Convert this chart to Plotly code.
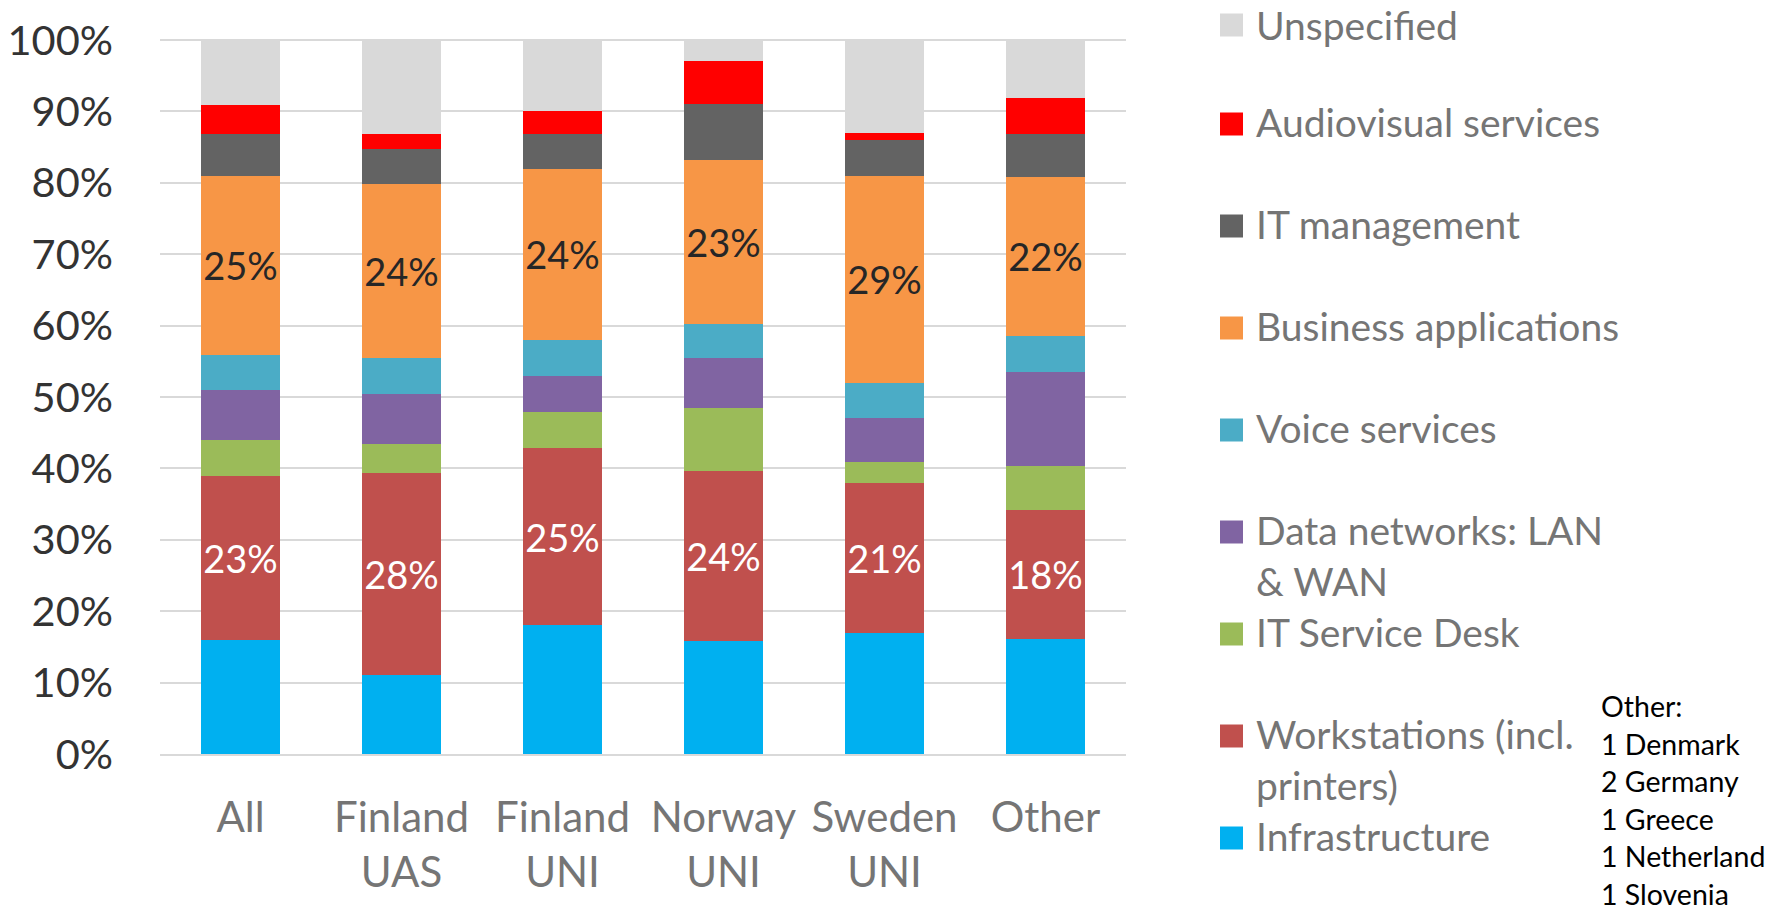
import plotly.graph_objects as go

# ---------------- data (percent shares, bottom -> top) ----------------
categories = ["All", "Finland<br>UAS", "Finland<br>UNI", "Norway<br>UNI", "Sweden<br>UNI", "Other"]

series_names = [
    "Infrastructure",
    "Workstations (incl.<br>printers)",
    "IT Service Desk",
    "Data networks: LAN<br>& WAN",
    "Voice services",
    "Business applications",
    "IT management",
    "Audiovisual services",
    "Unspecified",
]

infrastructure = [16.0, 11.1, 18.0, 15.8, 16.9, 16.1]
workstations = [22.9, 28.2, 24.9, 23.8, 21.0, 18.1]
it_service_desk = [5.1, 4.1, 5.0, 8.9, 3.0, 6.2]
data_networks = [7.0, 7.0, 5.0, 6.9, 6.1, 13.1]
voice_services = [4.9, 5.1, 5.1, 4.9, 5.0, 5.1]
business_apps = [25.1, 24.3, 24.0, 22.9, 29.0, 22.2]
it_management = [5.9, 5.0, 4.9, 7.9, 5.0, 6.0]
audiovisual = [4.0, 2.0, 3.1, 5.9, 1.0, 5.1]
unspecified = [9.1, 13.2, 10.0, 3.0, 13.0, 8.1]

series_values = [infrastructure, workstations, it_service_desk, data_networks,
                 voice_services, business_apps, it_management, audiovisual, unspecified]

colors = ["#00B0F0", "#C0504D", "#9BBB59", "#8064A2", "#4BACC6",
          "#F79646", "#636363", "#FF0000", "#D9D9D9"]

labelled = {1: "#FFFFFF", 5: "#262626"}  # series index -> data label colour

other_note = ["Other:", "1 Denmark", "2 Germany", "1 Greece", "1 Netherland", "1 Slovenia"]

y_ticks = list(range(0, 101, 10))

# ---------------- layout geometry (page pixels) ----------------
W, H = 1783, 911
L, R, T, B = 160, 1126, 39, 754   # plot area
FONT = "Lato, 'Open Sans', sans-serif"


def xp(x):
    return (x - L) / (R - L)


def yp(y):
    return (B - y) / (B - T)


fig = go.Figure()
for i, (name, vals, col) in enumerate(zip(series_names, series_values, colors)):
    kw = {}
    if i in labelled:
        kw = dict(
            texttemplate="%{y:.0f}%",
            textposition="inside",
            insidetextanchor="middle",
            textangle=0,
            constraintext="none",
            insidetextfont=dict(size=38, color=labelled[i], family=FONT),
        )
    fig.add_trace(go.Bar(
        x=categories, y=vals, name=name.replace("<br>", " "),
        marker=dict(color=col, line=dict(width=0)),
        hoverinfo="name+y",
        **kw,
    ))

# ---------------- manual legend (Excel-like fixed slots) ----------------
shapes, annotations = [], []
pitch, line_gap = 102, 51
row_centers = [25] + [22 + k * pitch for k in range(1, len(series_names))]
for k, idx in enumerate(reversed(range(len(series_names)))):
    yc = row_centers[k]
    shapes.append(dict(type="rect", xref="paper", yref="paper",
                       x0=xp(1220), x1=xp(1243), y0=yp(yc + 11.5), y1=yp(yc - 11.5),
                       fillcolor=colors[idx], line=dict(width=0)))
    text_y0 = yc if k == 0 else yc - 2.5
    for j, line in enumerate(series_names[idx].split("<br>")):
        annotations.append(dict(xref="paper", yref="paper", x=xp(1254), y=yp(text_y0 + j * line_gap),
                                xanchor="left", yanchor="middle", text=line, showarrow=False,
                                font=dict(size=39, color="#757575", family=FONT)))

for j, line in enumerate(other_note):
    annotations.append(dict(xref="paper", yref="paper", x=xp(1599), y=yp(706 + j * 37.5),
                            xanchor="left", yanchor="middle", text=line, showarrow=False,
                            font=dict(size=28.5, color="#000000", family=FONT)))

fig.update_layout(
    width=W, height=H,
    margin=dict(l=L, r=W - R, t=T, b=H - B, pad=0),
    barmode="stack", bargap=0.505,
    plot_bgcolor="white", paper_bgcolor="white",
    showlegend=False,
    font=dict(family=FONT),
    shapes=shapes, annotations=annotations,
    xaxis=dict(
        automargin=False,
        showline=True, linecolor="#D9D9D9", linewidth=1.5,
        showgrid=False, ticks="",
        tickfont=dict(size=42, color="#757575", family=FONT),
        ticklabelstandoff=26,
    ),
    yaxis=dict(
        automargin=False,
        range=[0, 100.15], tickvals=y_ticks, ticktext=[f"{v}%" for v in y_ticks],
        showgrid=True, gridcolor="#D9D9D9", gridwidth=1.5,
        zeroline=False, showline=False, ticks="",
        tickfont=dict(size=41.5, color="#333333", family=FONT),
        ticklabelstandoff=46,
    ),
)

fig.write_html(
    "out.html",
    config={"displayModeBar": False},
    post_script="document.body.style.margin='0';document.body.style.overflow='hidden';",
)
